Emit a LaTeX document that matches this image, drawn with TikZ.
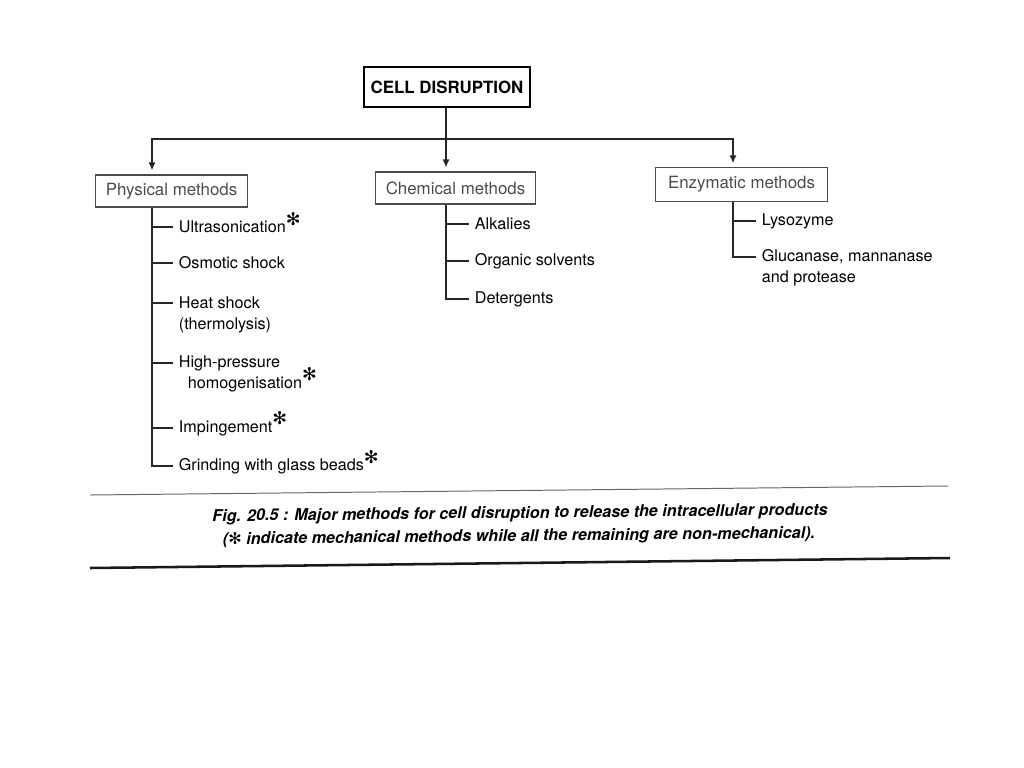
\documentclass[tikz,border=0pt]{standalone}
\usepackage{fontspec}
\setmainfont{TeX Gyre Heros}
\newfontfamily\dvsans{DejaVu Sans}
\usetikzlibrary{arrows.meta}
\newcommand{\mech}{\smash{\raisebox{0.45em}{\fontsize{12.5}{12.5}\selectfont\dvsans ✻}}}
\tikzset{
	lw/.style={line width=0.8pt,},
	conn/.style={lw, black!85,},
	arr/.style={conn, -{Latex[length=5.5pt,width=5pt]}, shorten >=3pt,},
	%%%
	rootbox/.style={draw, lw, font=\fontsize{12}{12}\selectfont\bfseries, minimum width=4.15cm, minimum height=1cm, inner sep=0,},
	methodbox/.style={draw=black!70, lw, text=black!70, font=\fontsize{12}{12}\selectfont, minimum height=0.8cm, inner sep=0,},
	item/.style={anchor=west, inner xsep=4pt, inner ysep=1pt, font=\fontsize{11.5}{11.5}\selectfont,},
	caption/.style={font=\fontsize{11.5}{11.5}\selectfont\bfseries\itshape, rotate=0.6,},
	rule/.style={line width=0.7pt, black!60,},
	rulebold/.style={line width=1.8pt, black!90,},
}
\gdef\xP{152}
\gdef\xC{446}
\gdef\xE{733}
\gdef\yJ{139}

\begin{document}
\begin{tikzpicture}[x=0.025cm, y=-0.025cm]

	\useasboundingbox (0,0) rectangle (1024,768);

	%%% Boxes

	\node[rootbox] (root) at (447,87) {CELL DISRUPTION};
	\node[methodbox, minimum width=3.78cm] (phys) at (171.5,191) {Physical methods};
	\node[methodbox, minimum width=3.98cm] (chem) at (455.5,188) {Chemical methods};
	\node[methodbox, minimum width=4.28cm, minimum height=0.83cm] (enz) at (741.5,184.5) {Enzymatic methods};

	\coordinate (jP) at (\xP,\yJ);
	\coordinate (jC) at (\xC,\yJ);
	\coordinate (jE) at (\xE,\yJ);

	\draw[conn, {Latex[length=5.5pt,width=5pt]}-{Latex[length=5.5pt,width=5pt]}, shorten <=3pt, shorten >=3pt]
		(phys.north -| jP) -- (jP) -- (jE) -- (enz.north -| jE);
	\draw[arr] (root.south -| jC) -- (chem.north -| jC);

	%%% Physical methods

	\node[item] (ultra) at (173,227) {Ultrasonication\mech};
	\node[item] (osmo) at (173,263) {Osmotic shock};
	\node[item] (heat) at (173,303) {Heat shock};
	\node[item] (thermo) at (173,325) {(thermolysis)};
	\node[item] (hpres) at (173,363) {High-pressure};
	\node[item] (homog) at (182,384) {homogenisation\mech};
	\node[item] (imping) at (173,428) {Impingement\mech};
	\node[item] (grind) at (173,466) {Grinding with glass beads\mech};

	\draw[conn] (phys.south -| jP) |- (grind.west);
	\foreach \n in {ultra, osmo, heat, hpres, imping}
		\draw[conn] (\n.west -| jP) -- (\n.west);

	%%% Chemical methods

	\node[item] (alk) at (469,224) {Alkalies};
	\node[item] (orgs) at (469,261) {Organic solvents};
	\node[item] (deter) at (469,299) {Detergents};

	\draw[conn] (chem.south -| jC) |- (deter.west);
	\foreach \n in {alk, orgs}
		\draw[conn] (\n.west -| jC) -- (\n.west);

	%%% Enzymatic methods

	\node[item] (lyso) at (756,221) {Lysozyme};
	\node[item] (gluc) at (756,257) {Glucanase, mannanase};
	\node[item] (prot) at (756,278) {and protease};

	\draw[conn] (enz.south -| jE) |- (gluc.west);
	\draw[conn] (lyso.west -| jE) -- (lyso.west);

	%%% Caption

	\coordinate (rA) at (90,495);
	\coordinate (rB) at (948,486);
	\coordinate (rC) at (90,568);
	\coordinate (rD) at (950,558);
	\draw[rule] (rA) -- (rB);
	\draw[rulebold] (rC) -- (rD);

	\node[caption] (capa) at (520,514) {Fig. 20.5 : Major methods for cell disruption to release the intracellular products};
	\node[caption] (capb) at (519,537) {({\dvsans\mdseries\upshape ✻} indicate mechanical methods while all the remaining are non-mechanical).};

\end{tikzpicture}
\end{document}
